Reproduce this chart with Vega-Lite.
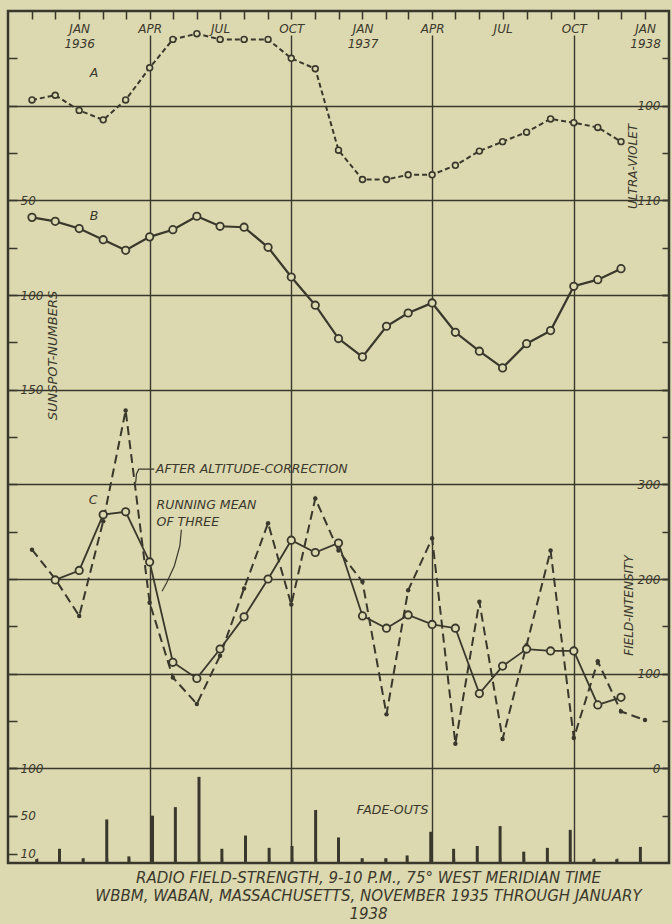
{
  "$schema": "https://vega.github.io/schema/vega-lite/v6.json",
  "width": 661,
  "height": 852,
  "autosize": {"type": "none"},
  "padding": {"left": 8, "top": 11, "right": 3, "bottom": 61},
  "background": "#dcd8b0",
  "title": {
    "text": ["RADIO FIELD-STRENGTH, 9-10 P.M., 75° WEST MERIDIAN TIME", "WBBM, WABAN, MASSACHUSETTS, NOVEMBER 1935 THROUGH JANUARY", "1938"],
    "orient": "bottom",
    "anchor": "middle",
    "dx": 30,
    "offset": 7,
    "baseline": "top",
    "font": "DejaVu Sans",
    "fontSize": 15,
    "fontStyle": "italic",
    "fontWeight": "normal",
    "color": "#3a382c",
    "lineHeight": 18
  },
  "config": {
    "view": {"stroke": "#3a382c", "strokeWidth": 2.5},
    "axis": {
      "domain": false,
      "labelFont": "DejaVu Sans",
      "labelFontStyle": "italic",
      "labelFontSize": 12,
      "labelColor": "#3a382c",
      "tickColor": "#3a382c",
      "tickWidth": 1.5,
      "gridColor": "#3a382c",
      "gridOpacity": 1,
      "gridWidth": 1.4,
      "titleFont": "DejaVu Sans",
      "titleFontStyle": "italic",
      "titleFontWeight": "normal",
      "titleFontSize": 12,
      "titleColor": "#3a382c",
      "labelOverlap": false,
      "labelFlush": false,
      "labelBound": false
    },
    "text": {"font": "DejaVu Sans", "fontStyle": "italic", "fontSize": 12.5, "color": "#3a382c"}
  },
  "datasets": {
    "uv": [
      {"date": "1935-11-01", "uv": 99.4}, {"date": "1935-12-01", "uv": 98.9},
      {"date": "1936-01-01", "uv": 100.5}, {"date": "1936-02-01", "uv": 101.5}, {"date": "1936-03-01", "uv": 99.4},
      {"date": "1936-04-01", "uv": 96.0}, {"date": "1936-05-01", "uv": 93.0}, {"date": "1936-06-01", "uv": 92.4},
      {"date": "1936-07-01", "uv": 93.0}, {"date": "1936-08-01", "uv": 93.0}, {"date": "1936-09-01", "uv": 93.0},
      {"date": "1936-10-01", "uv": 95.0}, {"date": "1936-11-01", "uv": 96.1}, {"date": "1936-12-01", "uv": 104.7},
      {"date": "1937-01-01", "uv": 107.8}, {"date": "1937-02-01", "uv": 107.8}, {"date": "1937-03-01", "uv": 107.3},
      {"date": "1937-04-01", "uv": 107.3}, {"date": "1937-05-01", "uv": 106.3}, {"date": "1937-06-01", "uv": 104.8},
      {"date": "1937-07-01", "uv": 103.8}, {"date": "1937-08-01", "uv": 102.8}, {"date": "1937-09-01", "uv": 101.4},
      {"date": "1937-10-01", "uv": 101.8}, {"date": "1937-11-01", "uv": 102.3}, {"date": "1937-12-01", "uv": 103.8}
    ],
    "sunspots": [
      {"date": "1935-11-01", "ss": 59.0}, {"date": "1935-12-01", "ss": 61.1},
      {"date": "1936-01-01", "ss": 64.9}, {"date": "1936-02-01", "ss": 70.8}, {"date": "1936-03-01", "ss": 76.4},
      {"date": "1936-04-01", "ss": 69.3}, {"date": "1936-05-01", "ss": 65.5}, {"date": "1936-06-01", "ss": 58.4},
      {"date": "1936-07-01", "ss": 63.7}, {"date": "1936-08-01", "ss": 64.2}, {"date": "1936-09-01", "ss": 74.8},
      {"date": "1936-10-01", "ss": 90.5}, {"date": "1936-11-01", "ss": 105.4}, {"date": "1936-12-01", "ss": 123.0},
      {"date": "1937-01-01", "ss": 132.7}, {"date": "1937-02-01", "ss": 116.5}, {"date": "1937-03-01", "ss": 109.5},
      {"date": "1937-04-01", "ss": 104.2}, {"date": "1937-05-01", "ss": 119.7}, {"date": "1937-06-01", "ss": 129.7},
      {"date": "1937-07-01", "ss": 138.5}, {"date": "1937-08-01", "ss": 125.7}, {"date": "1937-09-01", "ss": 118.8},
      {"date": "1937-10-01", "ss": 95.4}, {"date": "1937-11-01", "ss": 91.9}, {"date": "1937-12-01", "ss": 86.1}
    ],
    "corrected": [
      {"date": "1935-11-01", "fi": 231}, {"date": "1935-12-01", "fi": 200},
      {"date": "1936-01-01", "fi": 161}, {"date": "1936-02-01", "fi": 261}, {"date": "1936-03-01", "fi": 378},
      {"date": "1936-04-01", "fi": 175}, {"date": "1936-05-01", "fi": 96}, {"date": "1936-06-01", "fi": 68},
      {"date": "1936-07-01", "fi": 119}, {"date": "1936-08-01", "fi": 190}, {"date": "1936-09-01", "fi": 259},
      {"date": "1936-10-01", "fi": 173}, {"date": "1936-11-01", "fi": 285}, {"date": "1936-12-01", "fi": 230},
      {"date": "1937-01-01", "fi": 197}, {"date": "1937-02-01", "fi": 57}, {"date": "1937-03-01", "fi": 188},
      {"date": "1937-04-01", "fi": 243}, {"date": "1937-05-01", "fi": 26}, {"date": "1937-06-01", "fi": 176},
      {"date": "1937-07-01", "fi": 31}, {"date": "1937-08-01", "fi": 130}, {"date": "1937-09-01", "fi": 230},
      {"date": "1937-10-01", "fi": 32}, {"date": "1937-11-01", "fi": 113}, {"date": "1937-12-01", "fi": 60},
      {"date": "1938-01-01", "fi": 51}
    ],
    "runningMean": [
      {"date": "1935-12-01", "fi": 199},
      {"date": "1936-01-01", "fi": 209}, {"date": "1936-02-01", "fi": 268}, {"date": "1936-03-01", "fi": 271},
      {"date": "1936-04-01", "fi": 218}, {"date": "1936-05-01", "fi": 112}, {"date": "1936-06-01", "fi": 95},
      {"date": "1936-07-01", "fi": 126}, {"date": "1936-08-01", "fi": 160}, {"date": "1936-09-01", "fi": 200},
      {"date": "1936-10-01", "fi": 241}, {"date": "1936-11-01", "fi": 228}, {"date": "1936-12-01", "fi": 238},
      {"date": "1937-01-01", "fi": 161}, {"date": "1937-02-01", "fi": 148}, {"date": "1937-03-01", "fi": 162},
      {"date": "1937-04-01", "fi": 152}, {"date": "1937-05-01", "fi": 148}, {"date": "1937-06-01", "fi": 79},
      {"date": "1937-07-01", "fi": 108}, {"date": "1937-08-01", "fi": 126}, {"date": "1937-09-01", "fi": 124},
      {"date": "1937-10-01", "fi": 124}, {"date": "1937-11-01", "fi": 67}, {"date": "1937-12-01", "fi": 75}
    ],
    "fadeouts": [
      {"date": "1935-11-01", "fade": 4}, {"date": "1935-12-01", "fade": 15},
      {"date": "1936-01-01", "fade": 5}, {"date": "1936-02-01", "fade": 46}, {"date": "1936-03-01", "fade": 7},
      {"date": "1936-04-01", "fade": 50}, {"date": "1936-05-01", "fade": 59}, {"date": "1936-06-01", "fade": 91},
      {"date": "1936-07-01", "fade": 15}, {"date": "1936-08-01", "fade": 29}, {"date": "1936-09-01", "fade": 16},
      {"date": "1936-10-01", "fade": 18}, {"date": "1936-11-01", "fade": 56}, {"date": "1936-12-01", "fade": 27},
      {"date": "1937-01-01", "fade": 5}, {"date": "1937-02-01", "fade": 5}, {"date": "1937-03-01", "fade": 8},
      {"date": "1937-04-01", "fade": 33}, {"date": "1937-05-01", "fade": 15}, {"date": "1937-06-01", "fade": 18},
      {"date": "1937-07-01", "fade": 39}, {"date": "1937-08-01", "fade": 12}, {"date": "1937-09-01", "fade": 16},
      {"date": "1937-10-01", "fade": 35}, {"date": "1937-11-01", "fade": 4}, {"date": "1937-12-01", "fade": 4},
      {"date": "1938-01-01", "fade": 17}
    ],
    "leaders": [
      {"id": 1, "date": "1936-03-14", "fi": 302}, {"id": 1, "date": "1936-03-15", "fi": 311},
      {"id": 1, "date": "1936-03-18", "fi": 316}, {"id": 1, "date": "1936-04-07", "fi": 316},
      {"id": 2, "date": "1936-04-17", "fi": 187}, {"id": 2, "date": "1936-04-23", "fi": 196},
      {"id": 2, "date": "1936-05-03", "fi": 214}, {"id": 2, "date": "1936-05-10", "fi": 235},
      {"id": 2, "date": "1936-05-12", "fi": 252}
    ]
  },
  "layer": [
    {
      "data": {"name": "sunspots"},
      "encoding": {
        "x": {"field": "date", "type": "temporal",
          "scale": {"type": "utc", "domain": [{"year": 1935, "month": 10, "date": 1, "utc": true}, {"year": 1938, "month": 2, "date": 1, "utc": true}], "nice": false},
          "axis": {
            "orient": "top",
            "values": [
              {"year": 1936, "month": 4, "date": 1, "utc": true}, {"year": 1936, "month": 10, "date": 1, "utc": true},
              {"year": 1937, "month": 4, "date": 1, "utc": true}, {"year": 1937, "month": 10, "date": 1, "utc": true}
            ],
            "grid": true, "gridDash": [0, 24, 2000], "ticks": false, "labels": false, "title": null
          }},
        "y": {"field": "ss", "type": "quantitative",
          "scale": {"domain": [-50, 400], "reverse": true, "nice": false, "zero": false},
          "axis": {
            "orient": "left",
            "values": [-25, 0, 25, 50, 75, 100, 125, 150, 175, 200, 225, 250, 275, 300, 325, 350, 375],
            "ticks": true, "tickSize": -9, "grid": false,
            "labelExpr": "indexof([50, 100, 150], datum.value) >= 0 ? datum.label : ''",
            "labelAlign": "left", "labelBaseline": "middle", "labelPadding": -3,
            "title": "SUNSPOT-NUMBERS", "titleAngle": 270, "titleX": 44, "titleY": 344,
            "titleAlign": "center", "titleBaseline": "middle", "titleFontSize": 13
          }}
      },
      "layer": [
        {"mark": {"type": "line", "color": "#3a382c", "strokeWidth": 2.2}},
        {"mark": {"type": "point", "shape": "circle", "filled": true, "fill": "#dcd8b0", "stroke": "#3a382c", "strokeWidth": 1.8, "size": 55, "opacity": 1}},
        {"data": {"values": [{"date": "1936-01-20", "ss": 58.4, "label": "B"}]},
          "mark": {"type": "text", "align": "center", "baseline": "middle"},
          "encoding": {"text": {"field": "label"}}}
      ]
    },
    {
      "data": {"name": "uv"},
      "encoding": {
        "x": {"field": "date", "type": "temporal",
          "scale": {"type": "utc", "domain": [{"year": 1935, "month": 10, "date": 1, "utc": true}, {"year": 1938, "month": 2, "date": 1, "utc": true}], "nice": false},
          "axis": {
            "orient": "top",
            "values": [
              {"year": 1935, "month": 11, "date": 1, "utc": true}, {"year": 1935, "month": 12, "date": 1, "utc": true},
              {"year": 1936, "month": 1, "date": 1, "utc": true}, {"year": 1936, "month": 2, "date": 1, "utc": true},
              {"year": 1936, "month": 3, "date": 1, "utc": true}, {"year": 1936, "month": 4, "date": 1, "utc": true},
              {"year": 1936, "month": 5, "date": 1, "utc": true}, {"year": 1936, "month": 6, "date": 1, "utc": true},
              {"year": 1936, "month": 7, "date": 1, "utc": true}, {"year": 1936, "month": 8, "date": 1, "utc": true},
              {"year": 1936, "month": 9, "date": 1, "utc": true}, {"year": 1936, "month": 10, "date": 1, "utc": true},
              {"year": 1936, "month": 11, "date": 1, "utc": true}, {"year": 1936, "month": 12, "date": 1, "utc": true},
              {"year": 1937, "month": 1, "date": 1, "utc": true}, {"year": 1937, "month": 2, "date": 1, "utc": true},
              {"year": 1937, "month": 3, "date": 1, "utc": true}, {"year": 1937, "month": 4, "date": 1, "utc": true},
              {"year": 1937, "month": 5, "date": 1, "utc": true}, {"year": 1937, "month": 6, "date": 1, "utc": true},
              {"year": 1937, "month": 7, "date": 1, "utc": true}, {"year": 1937, "month": 8, "date": 1, "utc": true},
              {"year": 1937, "month": 9, "date": 1, "utc": true}, {"year": 1937, "month": 10, "date": 1, "utc": true},
              {"year": 1937, "month": 11, "date": 1, "utc": true}, {"year": 1937, "month": 12, "date": 1, "utc": true},
              {"year": 1938, "month": 1, "date": 1, "utc": true}
            ],
            "ticks": true, "tickSize": -8, "grid": false, "title": null,
            "labelExpr": "utcmonth(datum.value) == 0 ? ['JAN', utcFormat(datum.value, '%Y')] : (utcmonth(datum.value) % 3 == 0 ? upper(utcFormat(datum.value, '%b')) : '')",
            "labelAlign": "center", "labelBaseline": "top", "labelPadding": -4, "labelLineHeight": 15
          }},
        "y": {"field": "uv", "type": "quantitative",
          "scale": {"domain": [90, 180], "reverse": true, "nice": false, "zero": false},
          "axis": {
            "orient": "right",
            "values": [100, 110, 120, 130, 140, 150, 160, 170],
            "grid": true, "ticks": true, "tickSize": -7,
            "labelExpr": "datum.value <= 110 ? datum.label : ''",
            "labelAlign": "right", "labelBaseline": "middle", "labelPadding": -2,
            "title": "ULTRA-VIOLET", "titleAngle": 270, "titleX": -37, "titleY": 155,
            "titleAlign": "center", "titleBaseline": "middle"
          }}
      },
      "layer": [
        {"mark": {"type": "line", "color": "#3a382c", "strokeWidth": 2, "strokeDash": [5, 3]}},
        {"mark": {"type": "point", "shape": "circle", "filled": true, "fill": "#dcd8b0", "stroke": "#3a382c", "strokeWidth": 1.6, "size": 34, "opacity": 1}},
        {"data": {"values": [{"date": "1936-01-20", "uv": 96.6, "label": "A"}]},
          "mark": {"type": "text", "align": "center", "baseline": "middle"},
          "encoding": {"text": {"field": "label"}}}
      ]
    },
    {
      "encoding": {
        "x": {"field": "date", "type": "temporal",
          "scale": {"type": "utc", "domain": [{"year": 1935, "month": 10, "date": 1, "utc": true}, {"year": 1938, "month": 2, "date": 1, "utc": true}], "nice": false},
          "axis": null},
        "y": {"field": "fi", "type": "quantitative",
          "scale": {"domain": [-100, 800], "nice": false, "zero": false},
          "axis": {
            "orient": "right",
            "values": [-50, 0, 50, 100, 150, 200, 250, 300, 350, 400, 450, 500, 550, 600, 650, 700, 750],
            "grid": false, "ticks": true, "tickSize": -7,
            "labelExpr": "indexof([0, 100, 200, 300], datum.value) >= 0 ? datum.label : ''",
            "labelAlign": "right", "labelBaseline": "middle", "labelPadding": -2,
            "title": "FIELD-INTENSITY", "titleAngle": 270, "titleX": -41, "titleY": 594,
            "titleAlign": "center", "titleBaseline": "middle"
          }}
      },
      "layer": [
        {"data": {"name": "corrected"}, "mark": {"type": "line", "color": "#3a382c", "strokeWidth": 2, "strokeDash": [9, 5]}},
        {"data": {"name": "corrected"}, "mark": {"type": "point", "shape": "circle", "filled": true, "color": "#3a382c", "size": 20, "opacity": 1}},
        {"data": {"name": "runningMean"}, "mark": {"type": "line", "color": "#3a382c", "strokeWidth": 1.8}},
        {"data": {"name": "runningMean"}, "mark": {"type": "point", "shape": "circle", "filled": true, "fill": "#dcd8b0", "stroke": "#3a382c", "strokeWidth": 1.8, "size": 55, "opacity": 1}},
        {"data": {"name": "leaders"}, "mark": {"type": "line", "color": "#3a382c", "strokeWidth": 1.2},
          "encoding": {"detail": {"field": "id"}}},
        {"data": {"values": [{"date": "1936-01-19", "fi": 283, "label": "C"}]},
          "mark": {"type": "text", "align": "center", "baseline": "middle"},
          "encoding": {"text": {"field": "label"}}},
        {"data": {"values": [{"date": "1936-04-09", "fi": 316, "label": "AFTER ALTITUDE-CORRECTION"}]},
          "mark": {"type": "text", "align": "left", "baseline": "middle"},
          "encoding": {"text": {"field": "label"}}},
        {"data": {"values": [{"date": "1936-04-10", "fi": 285, "label": "RUNNING MEAN\nOF THREE"}]},
          "mark": {"type": "text", "align": "left", "baseline": "top", "lineBreak": "\n", "lineHeight": 17},
          "encoding": {"text": {"field": "label"}}}
      ]
    },
    {
      "data": {"name": "fadeouts"},
      "encoding": {
        "x": {"field": "date", "type": "temporal",
          "scale": {"type": "utc", "domain": [{"year": 1935, "month": 10, "date": 1, "utc": true}, {"year": 1938, "month": 2, "date": 1, "utc": true}], "nice": false},
          "axis": {
            "orient": "bottom",
            "values": [
              {"year": 1935, "month": 11, "date": 1, "utc": true}, {"year": 1935, "month": 12, "date": 1, "utc": true},
              {"year": 1936, "month": 1, "date": 1, "utc": true}, {"year": 1936, "month": 2, "date": 1, "utc": true},
              {"year": 1936, "month": 3, "date": 1, "utc": true}, {"year": 1936, "month": 4, "date": 1, "utc": true},
              {"year": 1936, "month": 5, "date": 1, "utc": true}, {"year": 1936, "month": 6, "date": 1, "utc": true},
              {"year": 1936, "month": 7, "date": 1, "utc": true}, {"year": 1936, "month": 8, "date": 1, "utc": true},
              {"year": 1936, "month": 9, "date": 1, "utc": true}, {"year": 1936, "month": 10, "date": 1, "utc": true},
              {"year": 1936, "month": 11, "date": 1, "utc": true}, {"year": 1936, "month": 12, "date": 1, "utc": true},
              {"year": 1937, "month": 1, "date": 1, "utc": true}, {"year": 1937, "month": 2, "date": 1, "utc": true},
              {"year": 1937, "month": 3, "date": 1, "utc": true}, {"year": 1937, "month": 4, "date": 1, "utc": true},
              {"year": 1937, "month": 5, "date": 1, "utc": true}, {"year": 1937, "month": 6, "date": 1, "utc": true},
              {"year": 1937, "month": 7, "date": 1, "utc": true}, {"year": 1937, "month": 8, "date": 1, "utc": true},
              {"year": 1937, "month": 9, "date": 1, "utc": true}, {"year": 1937, "month": 10, "date": 1, "utc": true},
              {"year": 1937, "month": 11, "date": 1, "utc": true}, {"year": 1937, "month": 12, "date": 1, "utc": true},
              {"year": 1938, "month": 1, "date": 1, "utc": true}
            ],
            "ticks": true, "tickSize": -5, "labels": false, "grid": false, "title": null
          }},
        "y": {"field": "fade", "type": "quantitative",
          "scale": {"domain": [0, 900], "nice": false, "zero": false},
          "axis": {
            "orient": "left",
            "values": [10, 50, 100],
            "grid": false, "ticks": true, "tickSize": -9,
            "labelAlign": "left", "labelBaseline": "middle", "labelPadding": -3,
            "title": null
          }}
      },
      "layer": [
        {"mark": {"type": "bar", "size": 3, "color": "#3a382c"}},
        {"data": {"values": [{"date": "1936-12-25", "fade": 56, "label": "FADE-OUTS"}]},
          "mark": {"type": "text", "align": "left", "baseline": "middle"},
          "encoding": {"text": {"field": "label"}}}
      ]
    }
  ],
  "resolve": {
    "scale": {"x": "independent", "y": "independent"},
    "axis": {"x": "independent", "y": "independent"}
  }
}
